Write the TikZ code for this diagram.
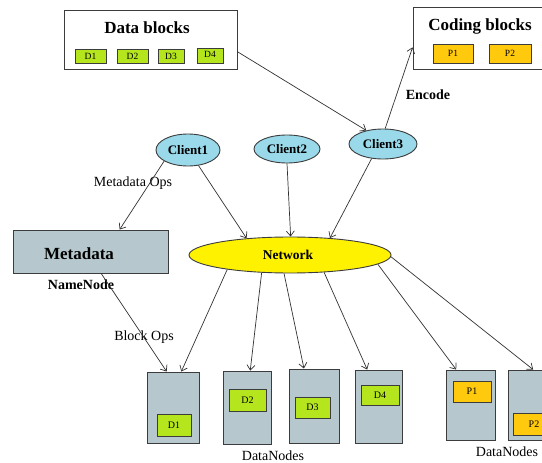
\documentclass[tikz,border=0pt]{standalone}
\usepackage{fontspec}
\setmainfont{Liberation Serif}
\usetikzlibrary{shapes.geometric,arrows.meta}
\definecolor{cli}{RGB}{153,217,234}
\definecolor{net}{RGB}{255,242,0}
\definecolor{grn}{RGB}{181,230,29}
\definecolor{org}{RGB}{255,201,14}
\definecolor{gry}{RGB}{182,200,205}
\definecolor{edge}{RGB}{60,60,60}
\definecolor{wire}{RGB}{50,50,50}
\tikzset{
  frame/.style={draw=edge,line width=0.9pt,fill=white,inner sep=0pt},
  graybox/.style={draw=edge,line width=0.9pt,fill=gry,inner sep=0pt},
  gblk/.style={draw=edge,line width=0.9pt,fill=grn,inner sep=0pt,font=\fontsize{10}{12}\selectfont},
  oblk/.style={draw=edge,line width=0.9pt,fill=org,inner sep=0pt,font=\fontsize{10}{12}\selectfont},
  sgblk/.style={gblk,font=\fontsize{9.5}{11}\selectfont},
  soblk/.style={oblk,font=\fontsize{9.5}{11}\selectfont},
  client/.style={ellipse,draw=edge,line width=0.9pt,fill=cli,inner sep=0pt,font=\bfseries\fontsize{13}{15}\selectfont},
  netw/.style={ellipse,draw=edge,line width=0.9pt,fill=net,inner sep=0pt,font=\bfseries\fontsize{13.5}{15}\selectfont},
  bigtitle/.style={inner sep=0pt,font=\bfseries\fontsize{17}{20}\selectfont},
  btxt/.style={inner sep=0pt,font=\bfseries\fontsize{14}{16}\selectfont},
  rtxt/.style={inner sep=0pt,font=\fontsize{14}{16}\selectfont},
  conn/.style={draw=wire,line width=0.7pt,-{Straight Barb[length=5pt,width=8pt]}},
}
\begin{document}
\begin{tikzpicture}[x=1pt,y=-1pt]
\useasboundingbox[fill=white] (0,0) rectangle (542,463);
% top boxes
\node[frame,minimum width=173pt,minimum height=59pt] (db) at (150.5,39.5) {};
\node[bigtitle] (dbt) at (147,28) {Data blocks};
\node[sgblk,minimum width=31pt,minimum height=14pt] (sd1) at (90.5,56) {D1};
\node[sgblk,minimum width=31pt,minimum height=14pt] (sd2) at (132.5,56) {D2};
\node[sgblk,minimum width=26pt,minimum height=14pt] (sd3) at (171,56) {D3};
\node[sgblk,minimum width=26pt,minimum height=15pt] (sd4) at (210,55.5) {\raisebox{1.5pt}{D4}};
\node[frame,minimum width=132pt,minimum height=62pt] (cb) at (479,38) {};
\node[bigtitle] (cbt) at (480,26) {Coding blocks};
\node[soblk,minimum width=40pt,minimum height=19pt] (sp1) at (453,53.5) {P1};
\node[soblk,minimum width=42pt,minimum height=19pt] (sp2) at (510,53.5) {P2};
\node[btxt] (enc) at (428,95) {Encode};
% clients
\node[client,minimum width=64pt,minimum height=32pt] (c1) at (188,150) {Client1};
\node[client,minimum width=66pt,minimum height=28pt] (c2) at (287,149) {Client2};
\node[client,minimum width=68pt,minimum height=30pt] (c3) at (383,144) {Client3};
% network
\node[netw,minimum width=202pt,minimum height=36pt] (net) at (290,255) {};
\node[inner sep=0pt,font=\bfseries\fontsize{13.5}{15}\selectfont] (nett) at (288,255) {Network};
% metadata
\node[graybox,minimum width=155pt,minimum height=43pt] (meta) at (90.5,251.5) {};
\node[bigtitle] (metat) at (79,254) {Metadata};
\node[btxt] (nn) at (81,285) {NameNode};
\node[rtxt] (mops) at (133,183) {Metadata Ops};
\node[rtxt] (bops) at (144,337) {Block Ops};
% datanodes
\node[graybox,minimum width=52pt,minimum height=71pt] (dn1) at (173,407.5) {};
\node[graybox,minimum width=48pt,minimum height=73pt] (dn2) at (247,407.5) {};
\node[graybox,minimum width=50pt,minimum height=74pt] (dn3) at (314,406) {};
\node[graybox,minimum width=47pt,minimum height=73pt] (dn4) at (378.5,406.5) {};
\node[graybox,minimum width=49pt,minimum height=70pt] (dn5) at (470.5,405) {};
\node[graybox,minimum width=49pt,minimum height=70pt] (dn6) at (532.5,405) {};
\node[gblk,minimum width=34pt,minimum height=22pt] (d1) at (174,425) {D1};
\node[gblk,minimum width=37pt,minimum height=22pt] (d2) at (247.5,400) {D2};
\node[gblk,minimum width=35pt,minimum height=21pt] (d3) at (312.5,407.5) {D3};
\node[gblk,minimum width=38pt,minimum height=20pt] (d4) at (380,395) {D4};
\node[oblk,minimum width=38pt,minimum height=21pt] (p1) at (472,391.5) {P1};
\node[oblk,minimum width=42pt,minimum height=22pt] (p2) at (534,424) {P2};
\node[rtxt] (dnl1) at (273,455.5) {DataNodes};
\node[rtxt] (dnl2) at (507,452) {DataNodes};
% connectors
\draw[conn] (db.-8) -- (c3.141);
\draw[conn] (c3.82) -- (cb.188);
\draw[conn] (c1.205) -- (meta.37);
\draw[conn] (c1.-56) -- (net.159);
\draw[conn] (c2.south) -- (net.88);
\draw[conn] (c3.232) -- (net.23);
\draw[conn] (meta.-64) -- (dn1.100);
\draw[conn] (net.193) -- (dn1.77);
\draw[conn] (net.212) -- (dn2.85);
\draw[conn] (net.252) -- (dn3.105);
\draw[conn] (net.-27) -- (dn4.107);
\draw[conn] (net.-6) -- (dn5.112);
\draw[conn] (net.-1) -- (dn6.89);
\end{tikzpicture}
\end{document}
